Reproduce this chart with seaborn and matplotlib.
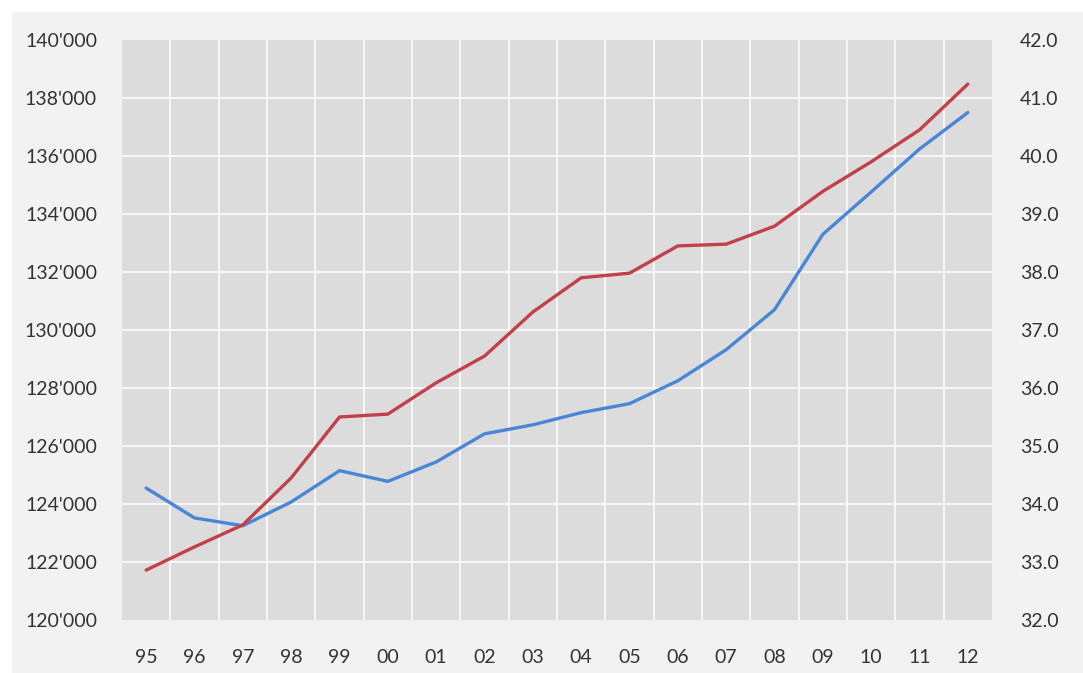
import matplotlib
matplotlib.use("Agg")
import matplotlib.pyplot as plt
from matplotlib.patches import Rectangle
from matplotlib.ticker import FuncFormatter, FixedLocator
import seaborn as sns
import pandas as pd

years = ["95", "96", "97", "98", "99", "00", "01", "02", "03", "04",
         "05", "06", "07", "08", "09", "10", "11", "12"]
blue_values = [124550, 123520, 123250, 124070, 125150, 124780, 125450, 126420,
               126730, 127150, 127460, 128250, 129320, 130700, 133300, 134760,
               136240, 137500]
red_values = [32.86, 33.26, 33.64, 34.45, 35.50, 35.55, 36.09, 36.55, 37.31,
              37.90, 37.98, 38.45, 38.48, 38.79, 39.39, 39.90, 40.45, 41.24]
left_ticks = [120000, 122000, 124000, 126000, 128000, 130000, 132000,
              134000, 136000, 138000, 140000]
right_ticks = [32.0, 33.0, 34.0, 35.0, 36.0, 37.0, 38.0, 39.0, 40.0, 41.0, 42.0]

sns.set_theme(style="white")
plt.rcParams["font.family"] = ["Lato", "DejaVu Sans"]

W, H = 1083, 673
fig = plt.figure(figsize=(W / 100, H / 100), dpi=100, facecolor="white")
fig.patches.append(Rectangle((12 / W, 0), 1 - 12 / W, 1 - 12 / H,
                             transform=fig.transFigure, facecolor="#f2f2f2",
                             edgecolor="none", zorder=-10))

left, right, top, bottom = 122, 992, 40, 620
ax = fig.add_axes([left / W, 1 - bottom / H, (right - left) / W, (bottom - top) / H])
ax.set_facecolor("#dcdcdc")

df = pd.DataFrame({"x": range(len(years)), "blue": blue_values, "red": red_values})

text_color = "#333333"
fs = 14

# vertical separators between categories, horizontal grid at ticks
for k in range(len(years) - 1):
    ax.axvline(k + 0.5, color="white", lw=1.1, zorder=1)
for t in left_ticks[1:-1]:
    ax.axhline(t, color="white", lw=1.1, zorder=1)

sns.lineplot(data=df, x="x", y="blue", ax=ax, color="#4a86d6", lw=2.4, zorder=3)
ax.set_xlim(-0.5, len(years) - 0.5)
ax.set_ylim(left_ticks[0], left_ticks[-1])
ax.yaxis.set_major_locator(FixedLocator(left_ticks))
ax.yaxis.set_major_formatter(FuncFormatter(lambda v, p: f"{v:,.0f}".replace(",", "'")))
ax.set_xticks(range(len(years)))
ax.set_xticklabels(years)
ax.tick_params(axis="y", length=0, pad=18, labelsize=fs, labelcolor=text_color)
ax.tick_params(axis="x", length=0, pad=21, labelsize=fs, labelcolor=text_color)
ax.set_xlabel("")
ax.set_ylabel("")
for s in ax.spines.values():
    s.set_visible(False)

ax2 = ax.twinx()
sns.lineplot(data=df, x="x", y="red", ax=ax2, color="#c2404a", lw=2.4, zorder=3)
ax2.set_ylim(right_ticks[0], right_ticks[-1])
ax2.yaxis.set_major_locator(FixedLocator(right_ticks))
ax2.yaxis.set_major_formatter(FuncFormatter(lambda v, p: f"{v:.1f}"))
ax2.tick_params(axis="y", length=0, pad=20, labelsize=fs, labelcolor=text_color)
ax2.set_ylabel("")
ax2.set_xlim(-0.5, len(years) - 0.5)
for s in ax2.spines.values():
    s.set_visible(False)

fig.savefig("out.png", dpi=100, facecolor=fig.get_facecolor())
